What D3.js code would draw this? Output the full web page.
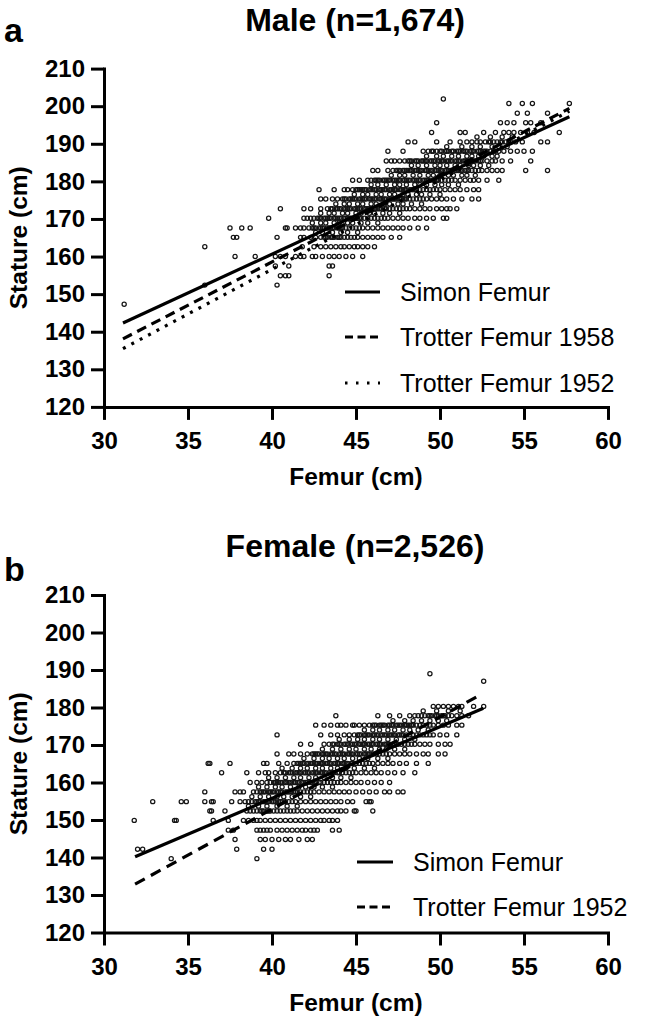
<!DOCTYPE html>
<html><head><meta charset="utf-8">
<script src="https://cdn.jsdelivr.net/npm/d3@7"></script>
<style>
html,body{margin:0;padding:0;background:#fff;}
svg{display:block;}
text{font-family:"Liberation Sans",Arial,Helvetica,sans-serif;fill:#000;}
</style></head><body>
<svg id="chart" width="647" height="1021"></svg>
<script>
// ---------- data ----------
const xTickValues = [30, 35, 40, 45, 50, 55, 60];
const yTickValues = [120, 130, 140, 150, 160, 170, 180, 190, 200, 210];

// Male: stature rows (cm) and the femur lengths (cm) seen on each row
const maleStature = [201.9, 200.7, 198.1, 195.6, 193.0, 191.8, 190.5, 189.2, 188.0, 186.7, 185.4, 184.2, 182.9, 181.6, 180.3, 179.1, 177.8, 176.5, 175.3, 174.0, 172.7, 171.5, 170.2, 168.9, 167.6, 166.4, 165.1, 162.6, 160.0, 157.5, 154.9, 152.4, 147.3];
const maleFemur = [
  [50.2],
  [54.1, 54.9, 55.5, 57.7],
  [54.6, 55.2, 56.4],
  [49.8, 53.6, 54.0, 54.4, 55.1, 55.4, 56.0],
  [49.5, 51.2, 51.5, 52.6, 53.3, 53.8, 54.1, 54.4, 54.8, 55.2, 55.6, 57.1],
  [52.2, 53.0, 53.7, 54.3],
  [48.1, 48.5, 49.8, 50.6, 51.2, 51.6, 51.9, 52.2, 52.4, 52.7, 52.9, 53.0, 53.2, 53.4, 53.6, 53.7, 53.9, 54.1, 54.2, 54.5, 54.9, 56.0, 56.4],
  [50.4, 51.3, 51.9, 52.4, 53.1, 53.5, 54.0],
  [46.9, 47.8, 49.0, 49.3, 49.5, 49.6, 49.8, 50.0, 50.1, 50.3, 50.4, 50.5, 50.7, 50.8, 51.0, 51.1, 51.2, 51.4, 51.5, 51.6, 51.8, 51.9, 52.0, 52.2, 52.3, 52.4, 52.6, 52.7, 52.8, 53.0, 53.2, 53.3, 53.5, 53.8, 54.2, 54.6, 55.0, 55.5],
  [49.2, 49.8, 50.2, 50.7, 51.1, 51.6, 51.9, 52.3, 52.6, 53.1, 53.4],
  [46.8, 47.1, 47.3, 47.6, 47.9, 48.1, 48.2, 48.3, 48.5, 48.6, 48.7, 48.9, 49.0, 49.1, 49.2, 49.4, 49.5, 49.6, 49.7, 49.9, 50.0, 50.1, 50.2, 50.4, 50.5, 50.6, 50.7, 50.9, 51.0, 51.1, 51.2, 51.4, 51.5, 51.6, 51.7, 51.9, 52.0, 52.1, 52.3, 52.4, 52.5, 52.8, 53.1, 53.3, 53.7, 54.2, 55.4],
  [48.3, 48.7, 49.2, 49.7, 50.0, 50.4, 50.9, 51.2, 51.7, 52.0, 52.4, 52.9],
  [46.0, 46.3, 46.9, 47.2, 47.4, 47.5, 47.6, 47.8, 47.9, 48.0, 48.1, 48.2, 48.3, 48.5, 48.6, 48.7, 48.8, 48.9, 49.1, 49.2, 49.3, 49.4, 49.5, 49.7, 49.8, 49.9, 50.0, 50.1, 50.3, 50.4, 50.5, 50.6, 50.7, 50.9, 51.0, 51.1, 51.2, 51.3, 51.5, 51.6, 51.7, 51.9, 52.1, 52.3, 52.5, 52.8, 53.1, 53.4, 53.7, 55.1, 56.4],
  [47.1, 47.6, 47.9, 48.4, 48.8, 49.3, 49.6, 50.0, 50.5, 50.8, 51.3, 51.6, 52.1],
  [44.8, 45.2, 45.7, 45.9, 46.1, 46.2, 46.3, 46.4, 46.6, 46.7, 46.8, 46.9, 47.0, 47.2, 47.3, 47.4, 47.5, 47.6, 47.8, 47.9, 48.0, 48.1, 48.2, 48.4, 48.5, 48.6, 48.7, 48.8, 49.0, 49.1, 49.2, 49.3, 49.4, 49.6, 49.7, 49.8, 49.9, 50.1, 50.3, 50.5, 50.7, 50.9, 51.2, 51.5, 51.8, 52.0, 52.3, 52.8, 53.5],
  [45.9, 46.3, 46.8, 47.3, 47.6, 48.0, 48.5, 48.8, 49.2, 49.7, 50.1, 50.5, 51.1],
  [42.8, 43.7, 44.3, 44.5, 44.8, 45.0, 45.1, 45.2, 45.3, 45.4, 45.5, 45.6, 45.8, 45.9, 46.0, 46.1, 46.2, 46.4, 46.5, 46.6, 46.7, 46.8, 47.0, 47.1, 47.2, 47.3, 47.4, 47.6, 47.7, 47.8, 47.9, 48.0, 48.2, 48.3, 48.4, 48.5, 48.6, 48.8, 49.0, 49.2, 49.4, 49.6, 49.8, 50.0, 50.3, 50.6, 50.9, 51.2, 51.6, 52.0, 52.3],
  [44.9, 45.4, 45.7, 46.2, 46.5, 47.0, 47.3, 47.8, 48.1, 48.6, 48.9, 49.4, 50.0],
  [42.9, 43.2, 43.6, 43.9, 44.2, 44.3, 44.4, 44.6, 44.7, 44.8, 44.9, 45.0, 45.2, 45.3, 45.4, 45.5, 45.6, 45.8, 45.9, 46.0, 46.1, 46.2, 46.4, 46.5, 46.6, 46.7, 46.8, 47.0, 47.1, 47.2, 47.3, 47.4, 47.6, 47.7, 47.8, 47.9, 48.0, 48.2, 48.4, 48.6, 48.8, 49.0, 49.2, 49.5, 49.8, 50.1, 50.4, 50.8, 51.3, 51.9, 52.3],
  [43.8, 44.3, 44.6, 45.1, 45.4, 45.9, 46.2, 46.7, 47.0, 47.5, 47.8, 48.3, 48.9],
  [40.5, 41.9, 42.3, 42.9, 43.3, 43.5, 43.6, 43.8, 43.9, 44.0, 44.1, 44.3, 44.4, 44.5, 44.6, 44.7, 44.9, 45.0, 45.1, 45.2, 45.3, 45.5, 45.6, 45.7, 45.8, 45.9, 46.1, 46.2, 46.3, 46.4, 46.5, 46.7, 46.8, 47.0, 47.2, 47.4, 47.6, 47.8, 48.0, 48.2, 48.5, 48.8, 49.1, 49.4, 49.8, 50.1, 50.4, 50.6, 51.0],
  [42.9, 43.4, 43.7, 44.2, 44.5, 45.0, 45.3, 45.8, 46.1, 46.6, 47.0, 47.6],
  [39.8, 41.9, 42.1, 42.3, 42.5, 42.7, 42.8, 42.9, 43.1, 43.2, 43.3, 43.4, 43.5, 43.7, 43.8, 43.9, 44.0, 44.1, 44.3, 44.4, 44.5, 44.6, 44.7, 44.9, 45.0, 45.1, 45.2, 45.3, 45.5, 45.7, 45.9, 46.1, 46.3, 46.5, 46.7, 46.9, 47.2, 47.5, 47.8, 48.1, 48.5, 48.8, 49.2, 49.6, 50.2, 50.4],
  [42.4, 42.9, 43.2, 43.7, 44.0, 44.5, 44.8, 45.3, 45.7, 46.3],
  [37.5, 38.2, 38.7, 40.8, 40.9, 41.4, 41.7, 41.9, 42.2, 42.4, 42.5, 42.6, 42.8, 42.9, 43.0, 43.1, 43.3, 43.4, 43.5, 43.6, 43.7, 43.9, 44.0, 44.1, 44.2, 44.4, 44.6, 44.8, 45.0, 45.2, 45.4, 45.7, 46.0, 46.3, 46.6, 46.9, 47.2, 47.5, 47.8, 48.2, 48.7, 49.2],
  [42.6, 43.0, 43.6, 44.1, 44.5, 45.1],
  [37.7, 37.9, 40.3, 41.7, 41.9, 42.3, 42.6, 42.9, 43.1, 43.2, 43.3, 43.5, 43.6, 43.7, 43.9, 44.0, 44.1, 44.3, 44.5, 44.7, 44.9, 45.1, 45.4, 45.7, 46.0, 46.3, 46.6, 47.1, 47.6],
  [36.0, 41.8, 42.5, 42.9, 43.2, 43.5, 43.8, 44.1, 44.3, 44.6, 44.9, 45.1, 45.4, 45.7, 46.1],
  [37.8, 39.0, 40.2, 40.5, 40.8, 41.4, 41.7, 41.9, 42.4, 42.6, 43.0, 43.4, 43.7, 44.0, 44.4, 44.8, 45.4],
  [40.2, 41.0, 43.4, 43.6],
  [40.5, 40.8, 41.0, 43.4],
  [36.0, 40.3],
  [31.2]
];

// Female: stature rows (cm) and femur lengths (cm)
const femaleStature = [189.0, 187.0, 180.3, 179.1, 177.8, 176.5, 175.3, 174.0, 172.7, 171.5, 170.2, 168.9, 167.6, 166.4, 165.1, 163.8, 162.6, 161.3, 160.0, 158.8, 157.5, 156.2, 154.9, 153.7, 152.4, 149.9, 147.3, 144.8, 142.2, 139.7];
const femaleFemur = [
  [49.4],
  [52.6],
  [49.6, 49.9, 50.2, 50.5, 50.8, 51.1, 51.3, 52.0, 52.6],
  [49.0, 49.8, 50.5, 51.2],
  [43.8, 46.3, 47.0, 47.6, 48.2, 48.5, 48.7, 48.9, 49.1, 49.3, 49.4, 49.5, 49.7, 49.8, 49.9, 50.1, 50.2, 50.3, 50.5, 50.7, 51.0, 51.3, 51.7],
  [47.2, 47.9, 48.4, 48.9, 49.4, 49.9, 50.4],
  [42.6, 43.1, 43.5, 43.9, 44.1, 44.4, 44.8, 44.9, 45.2, 45.5, 45.8, 46.0, 46.1, 46.2, 46.4, 46.5, 46.6, 46.7, 46.9, 47.0, 47.1, 47.2, 47.4, 47.5, 47.6, 47.7, 47.9, 48.0, 48.1, 48.2, 48.3, 48.4, 48.6, 48.8, 49.0, 49.2, 49.4, 49.6, 49.9, 50.2, 50.5, 51.0, 51.3],
  [45.5, 46.0, 46.4, 46.9, 47.3, 47.8, 48.2, 48.7, 49.3],
  [40.3, 42.9, 43.5, 43.9, 44.3, 44.6, 44.9, 45.1, 45.2, 45.3, 45.5, 45.6, 45.7, 45.8, 46.0, 46.1, 46.2, 46.3, 46.5, 46.6, 46.7, 46.8, 47.0, 47.1, 47.2, 47.3, 47.5, 47.6, 47.7, 47.8, 48.0, 48.2, 48.4, 48.6, 48.8, 49.0, 49.2, 49.4, 49.6, 50.0, 50.4, 51.0],
  [44.0, 44.6, 45.1, 45.5, 46.0, 46.4, 46.9, 47.4, 47.9, 48.5],
  [41.7, 42.3, 43.1, 43.4, 43.6, 43.7, 43.9, 44.0, 44.1, 44.3, 44.4, 44.5, 44.7, 44.8, 44.9, 45.0, 45.2, 45.3, 45.4, 45.5, 45.7, 45.8, 45.9, 46.0, 46.2, 46.3, 46.4, 46.5, 46.7, 46.8, 46.9, 47.0, 47.2, 47.3, 47.4, 47.5, 47.7, 47.9, 48.1, 48.3, 48.5, 48.8, 49.1, 49.4, 49.9, 50.3, 50.6],
  [43.0, 43.6, 44.1, 44.6, 45.0, 45.5, 45.9, 46.4, 46.8, 47.3, 47.9],
  [40.3, 41.0, 41.3, 41.7, 42.1, 42.4, 42.5, 42.6, 42.7, 42.8, 43.0, 43.1, 43.2, 43.3, 43.5, 43.6, 43.7, 43.8, 44.0, 44.1, 44.2, 44.3, 44.5, 44.6, 44.7, 44.8, 45.0, 45.1, 45.2, 45.3, 45.5, 45.6, 45.7, 45.8, 46.0, 46.2, 46.4, 46.6, 46.8, 47.0, 47.3, 47.6, 47.9, 48.2, 48.6, 49.0, 49.3, 49.9, 50.3],
  [41.9, 42.5, 43.0, 43.4, 43.9, 44.3, 44.8, 45.2, 45.7, 46.3, 46.9],
  [36.2, 36.3, 37.5, 39.5, 39.7, 40.4, 40.9, 41.3, 41.5, 41.6, 41.7, 41.8, 41.9, 42.1, 42.2, 42.3, 42.4, 42.6, 42.7, 42.8, 42.9, 43.0, 43.2, 43.3, 43.4, 43.5, 43.7, 43.8, 43.9, 44.0, 44.2, 44.3, 44.4, 44.5, 44.7, 44.8, 45.0, 45.2, 45.4, 45.6, 45.8, 46.0, 46.3, 46.6, 46.9, 47.2, 47.6, 48.0, 48.6, 49.3],
  [40.6, 41.2, 41.7, 42.1, 42.6, 43.0, 43.5, 43.9, 44.4, 44.9, 45.5, 46.1],
  [37.0, 38.5, 39.2, 39.6, 39.8, 40.2, 40.5, 40.7, 40.8, 41.0, 41.1, 41.2, 41.4, 41.5, 41.6, 41.7, 41.9, 42.0, 42.1, 42.2, 42.4, 42.5, 42.6, 42.7, 42.9, 43.0, 43.1, 43.2, 43.4, 43.5, 43.6, 43.7, 43.9, 44.0, 44.2, 44.4, 44.6, 44.8, 45.0, 45.3, 45.6, 45.9, 46.2, 46.5, 46.9, 47.3, 47.8, 48.5],
  [39.8, 40.3, 40.8, 41.3, 41.7, 42.2, 42.6, 43.1, 43.6, 44.1, 44.7],
  [38.7, 39.1, 39.4, 39.7, 39.9, 40.1, 40.2, 40.3, 40.4, 40.5, 40.6, 40.8, 40.9, 41.0, 41.1, 41.3, 41.4, 41.5, 41.6, 41.8, 41.9, 42.0, 42.1, 42.3, 42.4, 42.5, 42.6, 42.8, 42.9, 43.1, 43.3, 43.5, 43.7, 43.9, 44.1, 44.4, 44.7, 45.0, 45.3, 45.7, 46.1, 46.5, 47.0],
  [39.2, 39.7, 40.2, 40.6, 41.1, 41.6, 42.0, 42.5, 43.0, 43.6],
  [36.0, 37.8, 38.1, 38.3, 38.9, 39.1, 39.3, 39.4, 39.5, 39.6, 39.8, 39.9, 40.0, 40.1, 40.3, 40.4, 40.5, 40.6, 40.8, 40.9, 41.0, 41.1, 41.3, 41.4, 41.5, 41.7, 41.9, 42.1, 42.3, 42.5, 42.8, 43.1, 43.4, 43.7, 44.0, 44.3, 44.6, 45.0, 45.4, 45.8, 46.2, 46.7, 47.0, 47.5, 47.8],
  [38.8, 39.3, 39.8, 40.3, 40.7, 41.2, 41.7, 42.3],
  [32.9, 34.6, 34.9, 36.0, 36.4, 36.5, 37.6, 38.1, 38.4, 38.6, 38.8, 39.0, 39.1, 39.2, 39.3, 39.5, 39.6, 39.7, 39.8, 40.0, 40.1, 40.2, 40.4, 40.5, 40.6, 40.8, 41.0, 41.2, 41.4, 41.7, 42.0, 42.3, 42.6, 42.9, 43.2, 43.5, 43.8, 44.1, 44.5, 44.8, 45.6, 45.8, 45.9],
  [38.6, 39.2, 39.7, 40.3, 40.9, 41.5],
  [36.3, 36.4, 37.2, 38.5, 38.7, 38.9, 39.1, 39.3, 39.4, 39.5, 39.7, 39.8, 39.9, 40.1, 40.3, 40.5, 40.7, 40.9, 41.1, 41.3, 41.5, 41.8, 42.1, 42.4, 42.7, 43.0, 43.3, 43.6, 43.9, 44.1, 44.4, 44.9, 45.0, 46.0],
  [31.8, 34.2, 34.3, 36.5, 37.4, 38.3, 38.6, 38.9, 39.1, 39.3, 39.6, 39.9, 40.2, 40.5, 40.8, 41.1, 41.4, 41.7, 42.0, 42.3, 42.6, 42.9, 43.1, 43.4, 43.6, 43.9],
  [37.4, 37.7, 39.1, 39.3, 39.5, 39.7, 39.9, 40.3, 40.6, 40.9, 41.2, 41.5, 41.8, 42.0, 42.3, 42.5, 42.7, 43.6, 44.0],
  [37.8, 39.3, 39.6, 40.0, 40.4, 40.8, 41.1, 41.6, 42.1, 42.4],
  [32.0, 32.3, 37.9, 39.5, 40.0],
  [34.0, 39.1]
];

// Regression lines: [femur, stature] end points
const maleSimon = [[31.13, 142.3], [57.7, 197.2]];
const maleTrotter1958 = [[31.13, 138.1], [57.7, 199.4]];
const maleTrotter1952 = [[31.13, 135.5], [57.7, 198.7]];
const femaleSimon = [[31.85, 140.2], [52.58, 179.8]];
const femaleTrotter1952 = [[31.85, 132.9], [52.5, 183.6]];

const maleLegend = ["Simon Femur", "Trotter Femur 1958", "Trotter Femur 1952"];
const femaleLegend = ["Simon Femur", "Trotter Femur 1952"];

// ---------- layout ----------
const FONT = '"Liberation Sans", Arial, Helvetica, sans-serif';
const svg = d3.select("#chart");
const xRange = [104, 608];

const panels = [
  { title: "Male (n=1,674)", letter: "a", yRange: [406.9, 68.6], titleY: 31, letterY: 42, xTitleY: 485,
    stature: maleStature, femur: maleFemur,
    lines: [{ d: maleSimon, dash: null }, { d: maleTrotter1958, dash: "10,6" }, { d: maleTrotter1952, dash: "3,6.5" }],
    legend: { x0: 345, x1: 380, tx: 400, rows: [292, 337, 383], labels: maleLegend, dash: [null, "8,4.5", "2.5,8.5"] } },
  { title: "Female (n=2,526)", letter: "b", yRange: [932.5, 595], titleY: 557, letterY: 581, xTitleY: 1011,
    stature: femaleStature, femur: femaleFemur,
    lines: [{ d: femaleSimon, dash: null }, { d: femaleTrotter1952, dash: "11,7" }],
    legend: { x0: 357, x1: 393, tx: 413, rows: [862, 907], labels: femaleLegend, dash: [null, "8,4.5"] } }
];

panels.forEach(p => {
  const x = d3.scaleLinear().domain([30, 60]).range(xRange);
  const y = d3.scaleLinear().domain([120, 210]).range(p.yRange);
  const g = svg.append("g");

  // points
  const pts = [];
  p.stature.forEach((s, i) => p.femur[i].forEach(f => pts.push({ f, s })));
  g.append("g").selectAll("circle").data(pts).join("circle")
    .attr("cx", d => x(d.f)).attr("cy", d => y(d.s)).attr("r", 2.1)
    .attr("fill", "none").attr("stroke", "#151515").attr("stroke-width", 1.25);

  // regression lines
  const line = d3.line().x(d => x(d[0])).y(d => y(d[1]));
  p.lines.forEach(l => {
    g.append("path").attr("d", line(l.d)).attr("fill", "none").attr("stroke", "#000")
      .attr("stroke-width", 3.2).attr("stroke-dasharray", l.dash);
  });

  // axes
  const ax = g.append("g").attr("transform", `translate(0,${p.yRange[0]})`)
    .call(d3.axisBottom(x).tickValues(xTickValues).tickSize(13).tickSizeOuter(0).tickPadding(12));
  const ay = g.append("g").attr("transform", `translate(${xRange[0]},0)`)
    .call(d3.axisLeft(y).tickValues(yTickValues).tickSize(13).tickSizeOuter(0).tickPadding(6));
  [ax, ay].forEach(a => {
    a.select(".domain").attr("stroke", "#000").attr("stroke-width", 3).attr("stroke-linecap", "square");
    a.selectAll(".tick line").attr("stroke", "#000").attr("stroke-width", 3);
    a.selectAll(".tick text").attr("font-family", FONT).attr("font-size", 24).attr("font-weight", "bold").attr("fill", "#000");
  });

  // titles
  g.append("text").attr("x", 355).attr("y", p.titleY).attr("text-anchor", "middle")
    .attr("font-size", 32).attr("font-weight", "bold").text(p.title);
  g.append("text").attr("x", 4).attr("y", p.letterY).attr("font-size", 34).attr("font-weight", "bold").text(p.letter);
  g.append("text").attr("x", (xRange[0] + xRange[1]) / 2).attr("y", p.xTitleY).attr("text-anchor", "middle")
    .attr("font-size", 24.5).attr("font-weight", "bold").text("Femur (cm)");
  g.append("text").attr("transform", `translate(27,${(p.yRange[0] + p.yRange[1]) / 2}) rotate(-90)`)
    .attr("text-anchor", "middle").attr("font-size", 24.5).attr("font-weight", "bold").text("Stature (cm)");

  // legend
  const L = p.legend;
  L.labels.forEach((lab, i) => {
    g.append("line").attr("x1", L.x0).attr("x2", L.x1).attr("y1", L.rows[i]).attr("y2", L.rows[i])
      .attr("stroke", "#000").attr("stroke-width", 3).attr("stroke-dasharray", L.dash[i]);
    g.append("text").attr("x", L.tx).attr("y", L.rows[i] + 9).attr("font-size", 25).text(lab);
  });
});
</script>
</body></html>
